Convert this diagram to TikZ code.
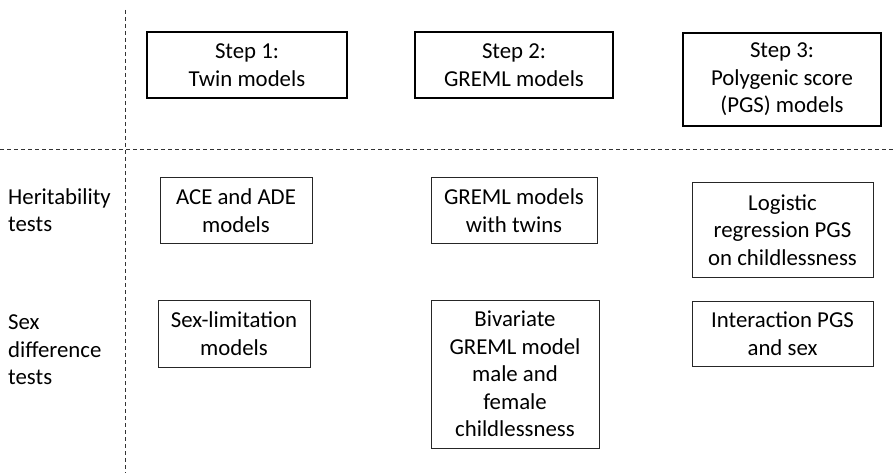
\documentclass[tikz,border=0pt]{standalone}
\usepackage{fontspec}
\setmainfont{Carlito}
\begin{document}
\begin{tikzpicture}[x=1pt,y=-1pt,
  stepbox/.style={draw=black,line width=1.8pt,align=center,inner sep=0pt,font=\fontsize{22.8}{27.5}\selectfont},
  testbox/.style={draw=black!85,line width=1pt,align=center,inner sep=0pt,font=\fontsize{22.8}{27.5}\selectfont},
  rowlabel/.style={anchor=west,align=left,inner sep=0pt,font=\fontsize{22.8}{27.5}\selectfont},
  divider/.style={draw=black!80,line width=1pt,dash pattern=on 4pt off 3pt}]
\useasboundingbox (0,0) rectangle (894,473);
\coordinate (vtop) at (125,10);
\coordinate (vbot) at (125,473);
\coordinate (hl) at (0,150);
\coordinate (hr) at (894,150);
\draw[divider] (vtop) -- (vbot);
\draw[divider] (hl) -- (hr);
\node[stepbox,minimum width=200,minimum height=66] (s1) at (247,65) {Step 1:\\Twin models};
\node[stepbox,minimum width=198,minimum height=66] (s2) at (514,65) {Step 2:\\GREML models};
\node[stepbox,minimum width=198,minimum height=93] (s3) at (782,79.5) {Step 3:\\Polygenic score\\(PGS) models};
\node[testbox,minimum width=152,minimum height=65] (ace) at (236,210.5) {ACE and ADE\\models};
\node[testbox,minimum width=166,minimum height=65] (gtw) at (514,210.5) {GREML models\\with twins};
\node[testbox,minimum width=181,minimum height=94] (log) at (782.5,230) {Logistic\\regression PGS\\on childlessness};
\node[testbox,minimum width=152,minimum height=67] (sexl) at (234,333.5) {Sex-limitation\\models};
\node[testbox,minimum width=168,minimum height=148] (biv) at (515,374) {Bivariate\\GREML model\\male and\\female\\childlessness};
\node[testbox,minimum width=181,minimum height=65] (int) at (782.5,333.5) {Interaction PGS\\and sex};
\node[rowlabel] (her) at (8,210) {Heritability\\tests};
\node[rowlabel] (sexd) at (8,350) {Sex\\difference\\tests};
\end{tikzpicture}
\end{document}
